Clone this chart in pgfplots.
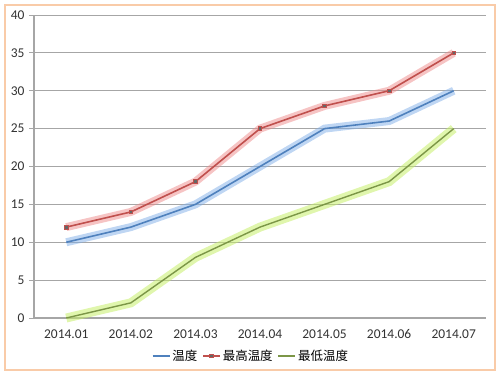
\documentclass[border=0pt]{standalone}
\usepackage{pgfplots}
\pgfplotsset{compat=1.18}
\usepackage{fontspec}
\setmainfont{Carlito}
\newfontfamily\cjk{Noto Sans CJK SC}
\definecolor{cblue}{HTML}{4F81BD}
\definecolor{cred}{HTML}{C0504D}
\definecolor{cgreen}{HTML}{9BBB59}
\definecolor{gblue}{HTML}{7FAEE8}
\definecolor{gred}{HTML}{EE8A8A}
\definecolor{ggreen}{HTML}{C6EE6A}
\definecolor{gridc}{HTML}{A6A6A6}
\definecolor{frame}{HTML}{F9CBA8}
\begin{document}
\begin{tikzpicture}
\path[use as bounding box] (0,0) rectangle (500bp,374bp);
\draw[frame, line width=1.2bp] (5bp,4bp) rectangle (495bp,369bp);
\begin{axis}[
  at={(34bp,56bp)}, anchor=south west,
  scale only axis, width=452bp, height=303bp,
  xmin=-0.5, xmax=6.5, ymin=0, ymax=40,
  ytick={0,5,...,40},
  xtick={0,...,6},
  xticklabels={2014.01,2014.02,2014.03,2014.04,2014.05,2014.06,2014.07},
  major x tick style={draw=none},
  extra x ticks={-0.5,0.5,...,6.5},
  extra x tick labels={},
  extra x tick style={major tick length=5bp, tick align=outside, tick style={draw=gridc, line width=1bp}, grid=none},
  axis x line=bottom, axis y line=left,
  axis line style={-, draw=gridc, line width=1.2bp},
  ymajorgrids, grid style={draw=gridc, line width=0.9bp},
  y tick style={draw=gridc, line width=1bp},
  tick align=outside, major tick length=5bp,
  tick label style={font=\fontsize{13.5}{15}\selectfont, text=black!80},
  xticklabel style={yshift=-3bp},
  yticklabel style={xshift=-1bp},
  /pgf/number format/assume math mode=true,
  legend columns=3,
  legend style={at={(axis description cs:0.48,-0.125)}, anchor=center, draw=none, fill=none,
     font=\cjk\fontsize{12.5}{14}\selectfont, /tikz/every even column/.append style={column sep=3bp}},
  legend image post style={line width=1.5bp},
  legend cell align=left,
  clip=false,
]
% glows
\addplot[gblue, line width=8bp, opacity=0.5, forget plot] coordinates {(0,10)(1,12)(2,15)(3,20)(4,25)(5,26)(6,30)};
\addplot[gred, line width=8bp, opacity=0.5, forget plot] coordinates {(0,12)(1,14)(2,18)(3,25)(4,28)(5,30)(6,35)};
\addplot[ggreen, line width=9bp, opacity=0.55, forget plot] coordinates {(0,0)(1,2)(2,8)(3,12)(4,15)(5,18)(6,25)};
% lines
\addplot[cblue, line width=1.6bp] coordinates {(0,10)(1,12)(2,15)(3,20)(4,25)(5,26)(6,30)};
\addlegendentry{温度}
\addplot[cred, line width=1.6bp, mark=square*, mark size=1.8bp, mark options={fill=black!60, draw=cred, line width=0.8bp}] coordinates {(0,12)(1,14)(2,18)(3,25)(4,28)(5,30)(6,35)};
\addlegendentry{最高温度}
\addplot[cgreen!80!black, line width=1.4bp] coordinates {(0,0)(1,2)(2,8)(3,12)(4,15)(5,18)(6,25)};
\addlegendentry{最低温度}
\end{axis}
\end{tikzpicture}
\end{document}
